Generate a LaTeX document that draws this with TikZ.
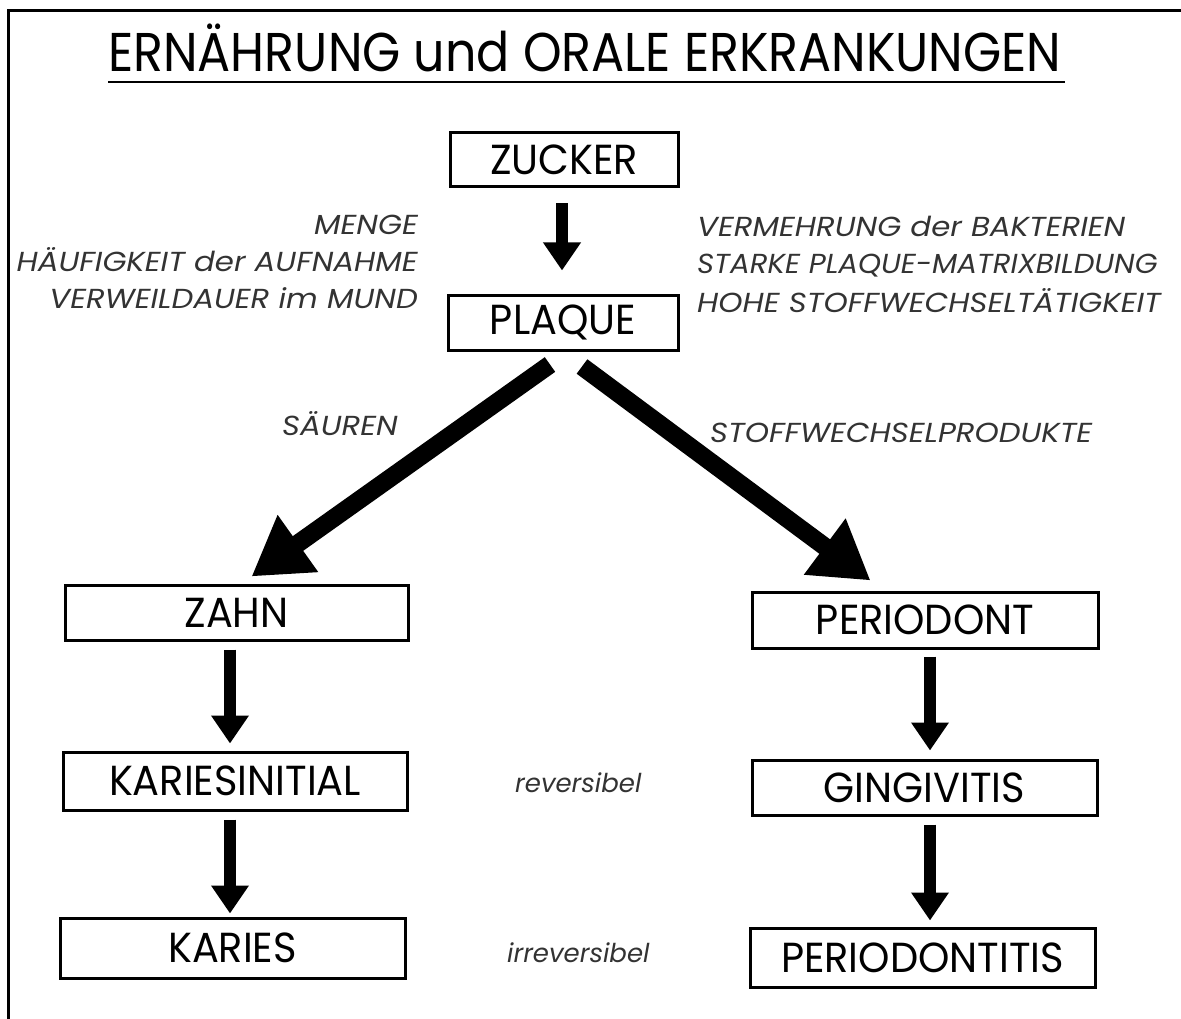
\documentclass[tikz,border=0pt]{standalone}
\usepackage{fontspec}
\setmainfont{Poppins}[FakeStretch=0.95]
\newfontfamily\titlefont{Poppins}[FakeStretch=0.9]
\newfontfamily\lblfont{Poppins}[FakeStretch=1.12]
\newfontfamily\lowfont{Poppins}[FakeStretch=1.0]
\usetikzlibrary{arrows.meta,calc}
\begin{document}
\begin{tikzpicture}[x=1pt,y=-1pt,
 box/.style={draw,line width=3pt,inner sep=0pt,font=\fontsize{42}{42}\selectfont},
 lbl/.style={inner sep=0pt,text=black!80,font=\lblfont\fontsize{27.5}{27.5}\selectfont\itshape},
 lowlbl/.style={inner sep=0pt,text=black!80,font=\lowfont\fontsize{26}{26}\selectfont\itshape},
 fat/.style={line width=12pt,-{Triangle[length=28pt,width=36pt]}},
 diag/.style={line width=18pt,-{Triangle[length=57pt,width=66pt]}},
]
\useasboundingbox (0,0) rectangle (1181,1019);
\fill[white] (0,0) rectangle (1181,1019);
\draw[line width=3pt] (8,1019) -- (8,11) -- (1181,11);

\node[anchor=base west,inner sep=0pt,font=\titlefont\fontsize{54.6}{55}\selectfont] (title) at (108,72) {ERNÄHRUNG und ORALE ERKRANKUNGEN};
\draw[line width=2pt] ($(title.base west)+(0,10)$) -- ($(title.base east)+(3,10)$);

\node[box,minimum width=228pt,minimum height=54pt] (zucker) at (564,160) {ZUCKER};
\node[box,minimum width=230pt,minimum height=55pt] (plaque) at (563,322.5) {PLAQUE};
\node[box,minimum width=343pt,minimum height=55pt] (zahn) at (236.5,612.5) {ZAHN};
\node[box,minimum width=344pt,minimum height=58pt] (kinit) at (235,781) {KARIESINITIAL};
\node[box,minimum width=345pt,minimum height=60pt] (karies) at (232.5,948) {KARIES};
\node[box,minimum width=346pt,minimum height=56pt] (periodont) at (925,620) {PERIODONT};
\node[box,minimum width=345pt,minimum height=55pt] (gingi) at (924.5,787.5) {GINGIVITIS};
\node[box,minimum width=345pt,minimum height=59pt] (perio2) at (922.5,957.5) {PERIODONTITIS};

\draw[fat] ($(zucker.south)+(-2,15)$) -- ($(plaque.north)+(-1,-23)$);
\draw[fat] ($(zahn.south)+(-6.5,8)$) -- ($(kinit.north)+(-5,-7)$);
\draw[fat] ($(kinit.south)+(-5,8)$) -- ($(karies.north)+(-2.5,-3)$);
\draw[fat] ($(periodont.south)+(5,7)$) -- ($(gingi.north)+(5.5,-8)$);
\draw[fat] ($(gingi.south)+(5.5,8)$) -- ($(perio2.north)+(7.5,-6)$);
\draw[diag] ($(plaque.south)+(-13,13)$) -- ($(zahn.north west)+(188,-7)$);
\draw[diag] ($(plaque.south)+(19,15)$) -- ($(periodont.north west)+(120,-10)$);

\node[lbl,anchor=base east] (l1) at (418,235) {MENGE};
\node[lbl,anchor=base east] (l2) at (418,272) {HÄUFIGKEIT der AUFNAHME};
\node[lbl,anchor=base east] (l3) at (418,308) {VERWEILDAUER im MUND};
\node[lbl,anchor=base west] (r1) at (697,237) {VERMEHRUNG der BAKTERIEN};
\node[lbl,anchor=base west] (r2) at (697,273) {\scalebox{0.95}[1]{STARKE PLAQUE-MATRIXBILDUNG}};
\node[lbl,anchor=base west] (r3) at (697,312) {HOHE STOFFWECHSELTÄTIGKEIT};
\node[lbl,anchor=base west] (saeuren) at (282,435) {SÄUREN};
\node[lbl,anchor=base west] (stoff) at (710,442) {STOFFWECHSELPRODUKTE};
\node[lowlbl,anchor=base west] (rev) at (515,792) {reversibel};
\node[lowlbl,anchor=base west] (irrev) at (507,962) {irreversibel};
\end{tikzpicture}
\end{document}
